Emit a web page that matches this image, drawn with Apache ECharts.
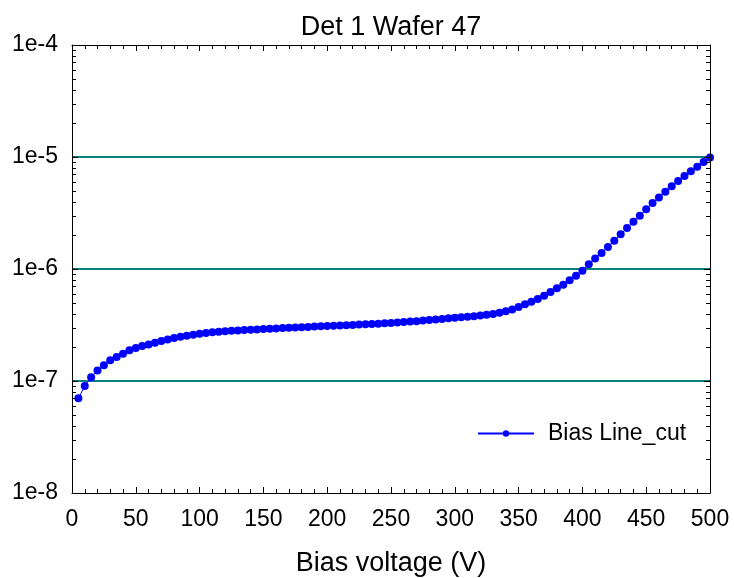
<!DOCTYPE html>
<html><head><meta charset="utf-8">
<script src="https://cdn.jsdelivr.net/npm/echarts@6/dist/echarts.min.js"></script>
<style>html,body{margin:0;padding:0;background:#fff}#c{width:734px;height:578px}</style>
</head><body><div id="c"></div>
<script>
const titleText = 'Det 1 Wafer 47';
const seriesName = 'Bias Line_cut';
const xAxisName = 'Bias voltage (V)';

const biasVoltage = [5,10,15,20,25,30,35,40,45,50,55,60,65,70,75,80,85,90,95,100,
  105,110,115,120,125,130,135,140,145,150,155,160,165,170,175,180,185,190,195,200,
  205,210,215,220,225,230,235,240,245,250,255,260,265,270,275,280,285,290,295,300,
  305,310,315,320,325,330,335,340,345,350,355,360,365,370,375,380,385,390,395,400,
  405,410,415,420,425,430,435,440,445,450,455,460,465,470,475,480,485,490,495,500];

const leakageCurrent = [7.0e-8,9.0e-8,1.08e-7,1.24e-7,1.38e-7,1.53e-7,1.64e-7,1.75e-7,1.88e-7,1.97e-7,
  2.05e-7,2.12e-7,2.20e-7,2.28e-7,2.35e-7,2.42e-7,2.48e-7,2.54e-7,2.59e-7,2.64e-7,
  2.68e-7,2.72e-7,2.75e-7,2.78e-7,2.81e-7,2.83e-7,2.85e-7,2.87e-7,2.89e-7,2.91e-7,
  2.93e-7,2.95e-7,2.97e-7,2.99e-7,3.00e-7,3.02e-7,3.04e-7,3.06e-7,3.08e-7,3.10e-7,
  3.12e-7,3.13e-7,3.15e-7,3.17e-7,3.19e-7,3.21e-7,3.23e-7,3.25e-7,3.27e-7,3.30e-7,
  3.33e-7,3.36e-7,3.39e-7,3.42e-7,3.46e-7,3.50e-7,3.54e-7,3.58e-7,3.63e-7,3.67e-7,
  3.71e-7,3.75e-7,3.79e-7,3.84e-7,3.90e-7,3.97e-7,4.06e-7,4.19e-7,4.34e-7,4.58e-7,
  4.84e-7,5.11e-7,5.40e-7,5.78e-7,6.23e-7,6.72e-7,7.25e-7,7.92e-7,8.72e-7,9.67e-7,
  1.10e-6,1.24e-6,1.39e-6,1.57e-6,1.79e-6,2.04e-6,2.32e-6,2.64e-6,2.99e-6,3.41e-6,
  3.88e-6,4.36e-6,4.90e-6,5.47e-6,6.10e-6,6.76e-6,7.45e-6,8.20e-6,9.00e-6,9.90e-6];

const yTickLabels = ['1e-8','1e-7','1e-6','1e-5','1e-4'];
const yGridValues = [1e-7, 1e-6, 1e-5];
const yMinorTickValues = [2e-8,3e-8,4e-8,5e-8,6e-8,7e-8,8e-8,9e-8,
  2e-7,3e-7,4e-7,5e-7,6e-7,7e-7,8e-7,9e-7,
  2e-6,3e-6,4e-6,5e-6,6e-6,7e-6,8e-6,9e-6,
  2e-5,3e-5,4e-5,5e-5,6e-5,7e-5,8e-5,9e-5];

const FONT = 'Liberation Sans, Arial, sans-serif';
const chart = echarts.init(document.getElementById('c'));

const axisLine = {show: true, onZero: false, lineStyle: {color: '#000', width: 1}};
const tickStyle = {color: '#000', width: 1};
const labelStyle = {fontFamily: FONT, fontSize: 23, color: '#000'};

chart.setOption({
  animation: false,
  color: ['#0000ff'],
  title: {
    text: titleText, left: 391, top: 14, textAlign: 'center', padding: 0,
    textStyle: {fontFamily: FONT, fontSize: 27, fontWeight: 'normal', color: '#000'}
  },
  grid: {left: 72, right: 24, top: 45, bottom: 85, containLabel: false, outerBoundsMode: 'none'},
  legend: {
    data: [seriesName], left: 477, top: 422, padding: 0,
    itemWidth: 56, itemHeight: 8,
    textStyle: {fontFamily: FONT, fontSize: 23, color: '#000', padding: [0, 0, 0, 9]}
  },
  xAxis: [{
    type: 'value', min: 0, max: 500, interval: 50, position: 'bottom', z: 5,
    axisLine: axisLine,
    axisTick: {show: true, inside: true, length: 6, lineStyle: tickStyle},
    minorTick: {show: true, splitNumber: 5, length: 4, lineStyle: tickStyle},
    axisLabel: Object.assign({margin: 15}, labelStyle),
    splitLine: {show: false},
    name: xAxisName, nameLocation: 'middle', nameGap: 57,
    nameTextStyle: {fontFamily: FONT, fontSize: 27, color: '#000'}
  }, {
    type: 'value', min: 0, max: 500, interval: 50, position: 'top', z: 5,
    axisLine: axisLine,
    axisTick: {show: true, inside: true, length: 6, lineStyle: tickStyle},
    minorTick: {show: true, splitNumber: 5, length: 4, lineStyle: tickStyle},
    axisLabel: {show: false}, splitLine: {show: false}
  }],
  yAxis: [{
    type: 'log', logBase: 10, min: 1e-8, max: 1e-4, position: 'left', z: 5,
    axisLine: axisLine,
    axisTick: {show: true, inside: true, length: 6, lineStyle: tickStyle},
    axisLabel: Object.assign({margin: 14, formatter: function (v) {
      return yTickLabels[Math.round(Math.log10(v)) + 8];
    }}, labelStyle),
    splitLine: {show: false}
  }, {
    type: 'log', logBase: 10, min: 1e-8, max: 1e-4, position: 'right', z: 5,
    axisLine: axisLine,
    axisTick: {show: true, inside: true, length: 6, lineStyle: tickStyle},
    axisLabel: {show: false}, splitLine: {show: false}
  }],
  series: [{
    type: 'custom', xAxisIndex: 0, yAxisIndex: 0, silent: true, clip: false,
    data: yGridValues.map(v => [0, v]),
    renderItem: function (params, api) {
      const y = Math.round(api.coord([0, api.value(1)])[1]);
      const cs = params.coordSys;
      return {type: 'line', shape: {x1: cs.x, y1: y, x2: cs.x + cs.width, y2: y},
        style: {stroke: '#0a8080', lineWidth: 2}};
    },
    z: 1
  }, {
    name: seriesName, type: 'line', xAxisIndex: 0, yAxisIndex: 0,
    data: biasVoltage.map((v, i) => [v, leakageCurrent[i]]),
    symbol: 'circle', symbolSize: 8, showAllSymbol: true,
    itemStyle: {color: '#0000ff'},
    lineStyle: {color: '#0000ff', width: 1},
    emphasis: {disabled: true}, z: 3
  }, {
    type: 'custom', xAxisIndex: 0, yAxisIndex: 0, silent: true, clip: false,
    data: yMinorTickValues.map(v => [0, v]),
    renderItem: function (params, api) {
      const y = Math.round(api.coord([0, api.value(1)])[1]) + 0.5;
      const cs = params.coordSys;
      return {type: 'group', children: [
        {type: 'line', shape: {x1: cs.x, y1: y, x2: cs.x + 4, y2: y}, style: {stroke: '#000', lineWidth: 1}},
        {type: 'line', shape: {x1: cs.x + cs.width - 4, y1: y, x2: cs.x + cs.width, y2: y}, style: {stroke: '#000', lineWidth: 1}}
      ]};
    },
    z: 4
  }]
});
</script>
</body></html>
